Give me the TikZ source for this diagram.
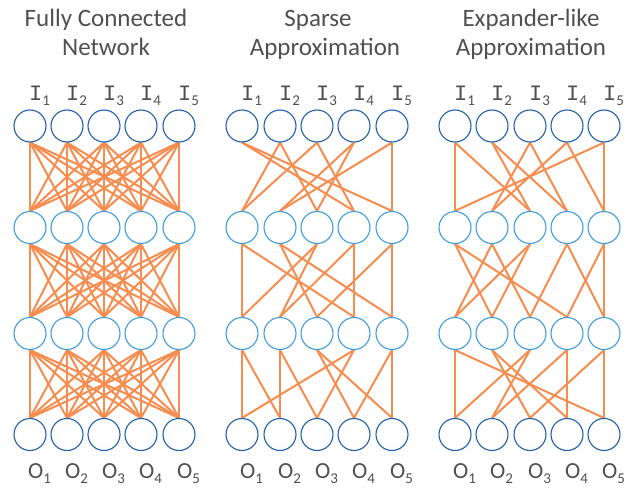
\documentclass[tikz,border=0pt]{standalone}
\usepackage{fontspec}
\setmainfont{Carlito}
\newfontfamily\monof{Liberation Mono}
\definecolor{edgeor}{RGB}{246,140,78}
\definecolor{darkb}{RGB}{30,95,170}
\definecolor{lightb}{RGB}{62,155,222}
\definecolor{txtg}{RGB}{80,80,80}
\pgfdeclarelayer{bg}
\pgfsetlayers{bg,main}
\begin{document}
\begin{tikzpicture}[x=1pt,y=-1pt,
  neuron/.style={circle, draw, minimum size=32pt, inner sep=0pt, line width=1.1pt},
  outer/.style={neuron, draw=darkb},
  inner/.style={neuron, draw=lightb},
  conn/.style={draw=edgeor, line width=2pt},
  ttl/.style={text=txtg, font=\fontsize{25}{30}\selectfont, inner sep=0pt, anchor=base},
  lbl/.style={text=txtg, inner sep=0pt, anchor=base west},
  ]
\useasboundingbox (0,0) rectangle (632,495);
\newcommand{\subf}{\fontsize{15}{15}\selectfont}
% titles
\node[ttl] (t1a) at (106,27) {Fully Connected};
\node[ttl] (t1b) at (106,56) {Network};
\node[ttl] (t2a) at (318,27) {Sparse};
\node[ttl] (t2b) at (325,56) {Approximation};
\node[ttl] (t3a) at (531,27) {Expander-like};
\node[ttl] (t3b) at (531,56) {Approximation};
% neurons and labels
\foreach \p/\xa/\xb/\xc/\xd/\xe in {1/30/67/104/141/179, 2/242/280/317/354/392, 3/455/492/530/567/604} {
  \foreach \i/\xx in {1/\xa, 2/\xb, 3/\xc, 4/\xd, 5/\xe} {
    \node[outer] (p\p r1n\i) at (\xx,126) {};
    \node[inner] (p\p r2n\i) at (\xx,227.5) {};
    \node[inner] (p\p r3n\i) at (\xx,333.5) {};
    \node[outer] (p\p r4n\i) at (\xx,434.5) {};
    \node[lbl] (p\p in\i) at (\xx-1,100) {{\fontsize{22}{22}\selectfont\monof I}\raisebox{-5pt}{\subf\i}};
    \node[lbl] (p\p on\i) at (\xx-2,478) {{\fontsize{23}{23}\selectfont O}\raisebox{-5pt}{\subf\i}};
  }
}
\begin{pgfonlayer}{bg}
% fully connected
\foreach \l in {1,2,3} {
  \pgfmathtruncatemacro{\m}{\l+1}
  \foreach \i in {1,...,5} {
    \foreach \j in {1,...,5} {
      \draw[conn] (p1r\l n\i.south) -- (p1r\m n\j.north);
    }
  }
}
% sparse
\foreach \i/\j in {1/4,1/5,2/1,2/3,3/1,3/4,4/2,4/3,5/2,5/5}
  \draw[conn] (p2r1n\i.south) -- (p2r2n\j.north);
\foreach \i/\j in {1/1,1/4,2/3,2/5,3/1,3/2,4/2,4/4,5/3,5/5}
  \draw[conn] (p2r2n\i.south) -- (p2r3n\j.north);
\foreach \i/\j in {1/1,1/2,2/2,2/3,3/4,3/5,4/1,4/3,5/4,5/5}
  \draw[conn] (p2r3n\i.south) -- (p2r4n\j.north);
% expander-like
\foreach \i/\j in {1/1,1/3,2/3,2/4,3/2,3/4,4/2,4/5,5/1,5/5}
  \draw[conn] (p3r1n\i.south) -- (p3r2n\j.north);
\foreach \i/\j in {1/2,1/4,2/1,2/3,3/1,3/2,4/3,4/5,5/4,5/5}
  \draw[conn] (p3r2n\i.south) -- (p3r3n\j.north);
\foreach \i/\j in {1/1,1/5,2/3,2/4,3/1,3/2,4/2,4/4,5/3,5/5}
  \draw[conn] (p3r3n\i.south) -- (p3r4n\j.north);
\end{pgfonlayer}
\end{tikzpicture}
\end{document}
